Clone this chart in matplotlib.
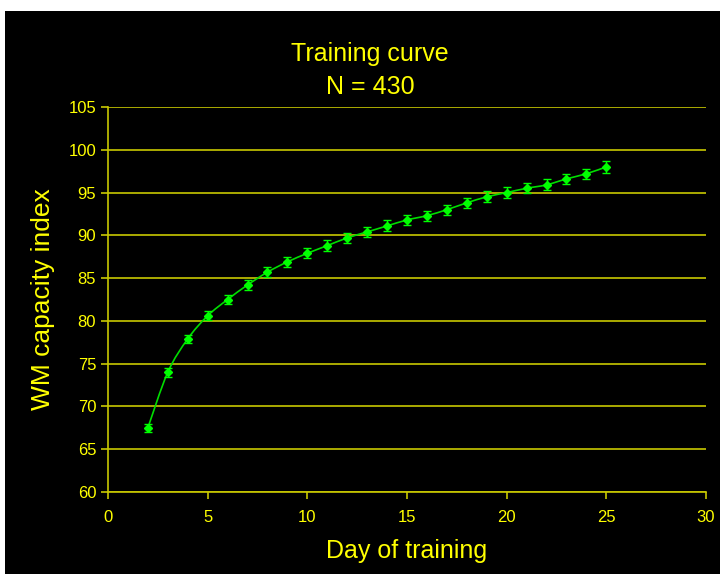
import numpy as np
import matplotlib
matplotlib.use("Agg")
import matplotlib.pyplot as plt
from matplotlib.path import Path
from matplotlib.patches import PathPatch, Rectangle

# training data
days = [2, 3, 4, 5, 6, 7, 8, 9, 10, 11, 12, 13, 14, 15, 16, 17, 18, 19, 20, 21, 22, 23, 24, 25]
wm_index = [67.5, 74.0, 77.9, 80.6, 82.5, 84.2, 85.7, 86.9, 87.9, 88.8, 89.7, 90.4,
            91.1, 91.8, 92.3, 93.0, 93.8, 94.5, 95.0, 95.5, 95.9, 96.6, 97.2, 98.0]
wm_err = [0.5, 0.5, 0.5, 0.5, 0.55, 0.55, 0.55, 0.55, 0.6, 0.6, 0.6, 0.6,
          0.65, 0.6, 0.6, 0.6, 0.6, 0.65, 0.6, 0.6, 0.65, 0.6, 0.6, 0.7]

yellow = "#FFFF00"
grid_col = "#C8C800"
green = "#00FF00"

plt.rcParams["font.family"] = ["Liberation Sans", "DejaVu Sans"]

fig = plt.figure(figsize=(7.2, 5.74), dpi=100, facecolor="white")
fig.add_artist(Rectangle((5 / 720, 0), 1, 1 - 11 / 574, transform=fig.transFigure,
                         facecolor="black", edgecolor="none", zorder=-10))

ax = fig.add_axes([108 / 720, 1 - 492 / 574, 598 / 720, 385 / 574])
ax.set_facecolor("black")

# smoothed line (Excel style), built as cubic bezier through the points
pts = np.column_stack([days, wm_index])
n = len(pts)
verts = [pts[0]]
codes = [Path.MOVETO]
for i in range(n - 1):
    p0 = pts[i - 1] if i > 0 else pts[i]
    p1 = pts[i]
    p2 = pts[i + 1]
    p3 = pts[i + 2] if i + 2 < n else pts[i + 1]
    verts += [p1 + (p2 - p0) / 6, p2 - (p3 - p1) / 6, p2]
    codes += [Path.CURVE4] * 3
ax.add_patch(PathPatch(Path(verts, codes), facecolor="none", edgecolor="#00DD00",
                       linewidth=1.2, zorder=3))

ax.errorbar(days, wm_index, yerr=wm_err, fmt="D", color=green, markersize=4.5,
            ecolor=green, elinewidth=1.0, capsize=3, capthick=1.0, zorder=4)

ax.set_xlim(0, 30)
ax.set_ylim(60, 105)
ax.set_xticks(range(0, 31, 5))
ax.set_yticks(range(60, 106, 5))
ax.yaxis.grid(True, color=grid_col, linewidth=1.2)
ax.set_axisbelow(True)

for s in ["top", "right"]:
    ax.spines[s].set_visible(False)
for s in ["left", "bottom"]:
    ax.spines[s].set_color(grid_col)
    ax.spines[s].set_linewidth(1.2)

ax.tick_params(colors=grid_col, labelcolor=yellow, labelsize=12, length=5, width=1.2)
ax.tick_params(axis="x", pad=8)

ax.set_xlabel("Day of training", color=yellow, fontsize=18, labelpad=10)
ax.set_ylabel("WM capacity index", color=yellow, fontsize=19, labelpad=10)

fig.text(370 / 720, 1 - 61 / 574, "Training curve", color=yellow, fontsize=18,
         ha="center", va="baseline")
fig.text(370 / 720, 1 - 94 / 574, "N = 430", color=yellow, fontsize=18,
         ha="center", va="baseline")

fig.savefig("out.png", dpi=100, facecolor=fig.get_facecolor())
